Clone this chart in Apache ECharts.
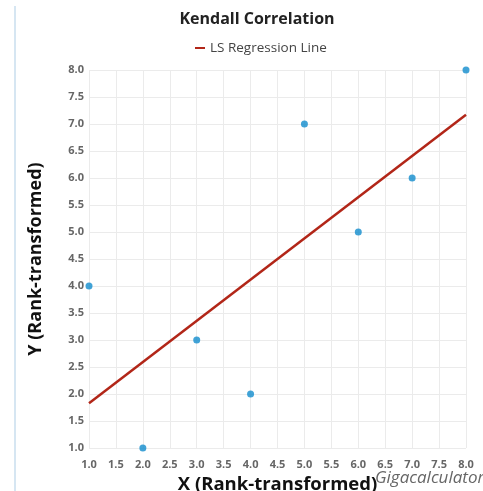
<!DOCTYPE html>
<html><head><meta charset="utf-8">
<script src="https://cdn.jsdelivr.net/npm/echarts@6/dist/echarts.min.js"></script>
<style>html,body{margin:0;padding:0;background:#fff}#c{width:483px;height:491px}</style>
</head><body><div id="c"></div>
<script>
const titleText = "Kendall Correlation";
const legendName = "LS Regression Line";
const xName = "X (Rank-transformed)";
const yName = "Y (Rank-transformed)";
const xRank = [1, 2, 3, 4, 5, 6, 7, 8];
const yRank = [4, 1, 3, 2, 7, 5, 6, 8];
const lineX = [1, 8];
const lineY = [1.83, 7.17];
const axisMin = 1, axisMax = 8, axisStep = 0.5;

const chart = echarts.init(document.getElementById('c'));
const font = '"Open Sans", "Noto Sans", sans-serif';
chart.setOption({
  animation: false,
  title: { text: titleText, left: 252, top: 6, textAlign: 'center',
    textStyle: { fontFamily: font, fontSize: 16, fontWeight: 'bold', color: '#222' } },
  legend: { data: [{ name: legendName, icon: 'rect' }], left: 190, top: 36, itemWidth: 10, itemHeight: 2,
    itemGap: 4, textStyle: { fontFamily: font, fontSize: 13.5, color: '#444' } },
  grid: { left: 89, right: 17, top: 70, bottom: 43, containLabel: false, outerBoundsMode: 'none' },
  xAxis: { type: 'value', min: axisMin, max: axisMax, interval: axisStep,
    name: xName, nameLocation: 'middle', nameGap: 20,
    nameTextStyle: { fontFamily: font, fontSize: 18.5, fontWeight: 'bold', color: '#111' },
    axisLine: { show: false }, axisTick: { show: false },
    axisLabel: { formatter: v => v.toFixed(1), fontFamily: font, fontSize: 11, fontWeight: 'bold', color: '#666', margin: 11 },
    splitLine: { lineStyle: { color: '#ebebeb' } } },
  yAxis: { type: 'value', min: axisMin, max: axisMax, interval: axisStep,
    name: yName, nameLocation: 'middle', nameGap: 44,
    nameTextStyle: { fontFamily: font, fontSize: 18, fontWeight: 'bold', color: '#111' },
    axisLine: { show: false }, axisTick: { show: false },
    axisLabel: { formatter: v => v.toFixed(1), fontFamily: font, fontSize: 11, fontWeight: 'bold', color: '#666', margin: 5 },
    splitLine: { lineStyle: { color: '#ebebeb' } } },
  graphic: [
    { type: 'line', shape: { x1: 15, y1: 6, x2: 15, y2: 491 }, style: { stroke: '#d6e6f2', lineWidth: 2 } },
    { type: 'text', left: 375, top: 470, style: { text: 'Gigacalculator', fontFamily: font, fontSize: 17,
      fontStyle: 'italic', fill: '#666' } }
  ],
  series: [
    { type: 'scatter', data: xRank.map((x, i) => [x, yRank[i]]), symbolSize: 7,
      itemStyle: { color: '#118ccd' } },
    { type: 'line', name: legendName, data: lineX.map((x, i) => [x, lineY[i]]), symbol: 'none',
      lineStyle: { color: '#b22618', width: 2.5 }, itemStyle: { color: '#b22618' } }
  ]
});
</script></body></html>
